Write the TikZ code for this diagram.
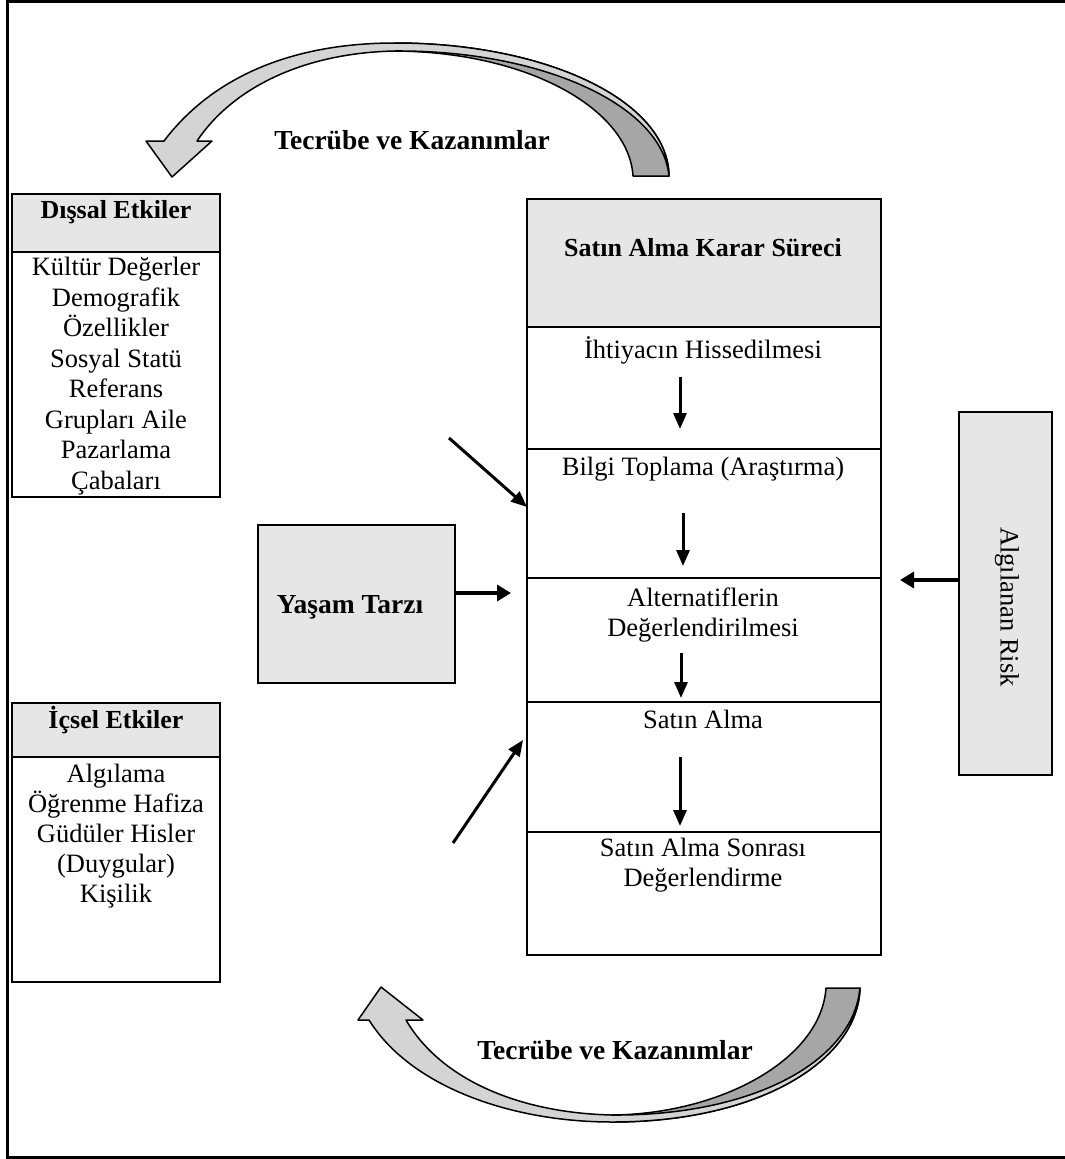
\documentclass[tikz,border=0pt]{standalone}
\usepackage{fontspec}
\setmainfont{Liberation Serif}
\usetikzlibrary{arrows.meta}
\definecolor{hdr}{HTML}{E6E6E6}
\definecolor{bandlt}{HTML}{D4D4D4}
\definecolor{banddk}{HTML}{A6A6A6}
\begin{document}
\begin{tikzpicture}[x=1pt,y=-1pt,
  box/.style={draw, line width=2pt, inner sep=0pt, outer sep=0pt, anchor=north west},
  txt/.style={font=\fontsize{26.5}{30}\selectfont, align=center, inner sep=0pt},
  btxt/.style={font=\fontsize{26}{30}\selectfont\bfseries, align=center, inner sep=0pt},
  bigbtxt/.style={font=\fontsize{27.5}{30}\selectfont\bfseries, align=center, inner sep=0pt},
  flow/.style={line width=3pt, -{Triangle[length=16pt,width=13pt]}},
  bigflow/.style={line width=4.5pt, -{Triangle[length=14pt,width=16pt]}},
  band/.style={draw, line width=1.5pt, line join=round}]
\useasboundingbox (0,0) rectangle (1065,1159);
\clip (0,0) rectangle (1065,1159);

% outer frame: left, top and bottom sides
\draw[line width=3pt] (1065,1.5) -- (7.5,1.5) -- (7.5,1157) -- (1065,1157);

% external influences
\node[box, fill=hdr, minimum width=208pt, minimum height=58pt] (dishdr) at (12,194) {};
\node[box, minimum width=208pt, minimum height=245pt] (disbody) at (12,252) {};
\node[btxt] (distitle) at (116,212) {Dışsal Etkiler};
\node[txt, font=\fontsize{26.5}{30.5}\selectfont] (distext) at (116,376) {Kültür Değerler\\Demografik\\Özellikler\\Sosyal Statü\\Referans\\Grupları Aile\\Pazarlama\\Çabaları};

% internal influences
\node[box, fill=hdr, minimum width=208pt, minimum height=54pt] (ichdr) at (12,703) {};
\node[box, minimum width=208pt, minimum height=225pt] (icbody) at (12,757) {};
\node[btxt] (ictitle) at (116,720) {İçsel Etkiler};
\node[txt] (ictext) at (116,836) {Algılama\\Öğrenme Hafiza\\Güdüler Hisler\\(Duygular)\\Kişilik};

% lifestyle
\node[box, fill=hdr, minimum width=197pt, minimum height=158pt] (yasam) at (258,525) {};
\node[bigbtxt] (yasamtext) at (350,607) {Yaşam Tarzı};

% purchase decision process
\node[box, fill=hdr, minimum width=354pt, minimum height=128pt] (surec) at (527,199) {};
\node[box, minimum width=354pt, minimum height=122pt] (r1) at (527,327) {};
\node[box, minimum width=354pt, minimum height=129pt] (r2) at (527,449) {};
\node[box, minimum width=354pt, minimum height=124pt] (r3) at (527,578) {};
\node[box, minimum width=354pt, minimum height=130pt] (r4) at (527,702) {};
\node[box, minimum width=354pt, minimum height=123pt] (r5) at (527,832) {};
\node[btxt] (surectext) at (703,248) {Satın Alma Karar Süreci};
\node[txt] (t1) at (703,350) {İhtiyacın Hissedilmesi};
\node[txt] (t2) at (703,469) {Bilgi Toplama (Araştırma)};
\node[txt] (t3) at (703,615) {Alternatiflerin\\Değerlendirilmesi};
\node[txt] (t4) at (703,719) {Satın Alma};
\node[txt] (t5) at (703,865) {Satın Alma Sonrası\\Değerlendirme};

% perceived risk
\node[box, fill=hdr, minimum width=93pt, minimum height=363pt] (risk) at (959,412) {};
\node[txt, rotate=-90] (risktext) at (1007,607) {Algılanan Risk};

% step arrows inside the process
\coordinate (s1a) at (680,377); \coordinate (s1b) at (680,429);
\coordinate (s2a) at (683,513); \coordinate (s2b) at (683,566);
\coordinate (s3a) at (681,653); \coordinate (s3b) at (681,698);
\coordinate (s4a) at (680,757); \coordinate (s4b) at (680,826);
\draw[flow] (s1a) -- (s1b);
\draw[flow] (s2a) -- (s2b);
\draw[flow] (s3a) -- (s3b);
\draw[flow] (s4a) -- (s4b);

% influence arrows into the process
\coordinate (extfrom) at (449,438); \coordinate (extto) at (527,507);
\coordinate (intfrom) at (453,843); \coordinate (intto) at (523,740);
\coordinate (yout) at (455,593); \coordinate (yin) at (511,593);
\coordinate (rout) at (959,580); \coordinate (rin) at (900,580);
\draw[flow] (extfrom) -- (extto);
\draw[flow] (intfrom) -- (intto);
\draw[bigflow] (yout) -- (yin);
\draw[bigflow] (rout) -- (rin);

% upper curved block arrow
\path[band, fill=banddk]
  (395,43) .. controls (545,43) and (668,100) .. (669,176)
  -- (633,176) .. controls (629,110) and (530,52) .. (395,51) -- cycle;
\path[band, fill=bandlt]
  (172,177) -- (146,141) -- (164,141)
  .. controls (214,75) and (295,43) .. (395,43)
  .. controls (545,43) and (668,100) .. (669,176)
  .. controls (662,104) and (540,50) .. (395,51)
  .. controls (300,53) and (231,90) .. (197,141)
  -- (212,141) -- cycle;
\node[bigbtxt] (ust) at (412,140) {Tecrübe ve Kazanımlar};

% lower curved block arrow
\path[band, fill=banddk]
  (612,1122) .. controls (760,1122) and (858,1060) .. (860,988)
  -- (826,988) .. controls (821,1060) and (720,1114) .. (612,1115) -- cycle;
\path[band, fill=bandlt]
  (381,987) -- (358,1020) -- (369,1020)
  .. controls (410,1086) and (510,1122) .. (612,1122)
  .. controls (760,1122) and (858,1060) .. (860,988)
  .. controls (853,1062) and (752,1116) .. (612,1115)
  .. controls (520,1113) and (441,1080) .. (406,1020)
  -- (423,1020) -- cycle;
\node[bigbtxt] (alt) at (615,1050) {Tecrübe ve Kazanımlar};
\end{tikzpicture}
\end{document}
